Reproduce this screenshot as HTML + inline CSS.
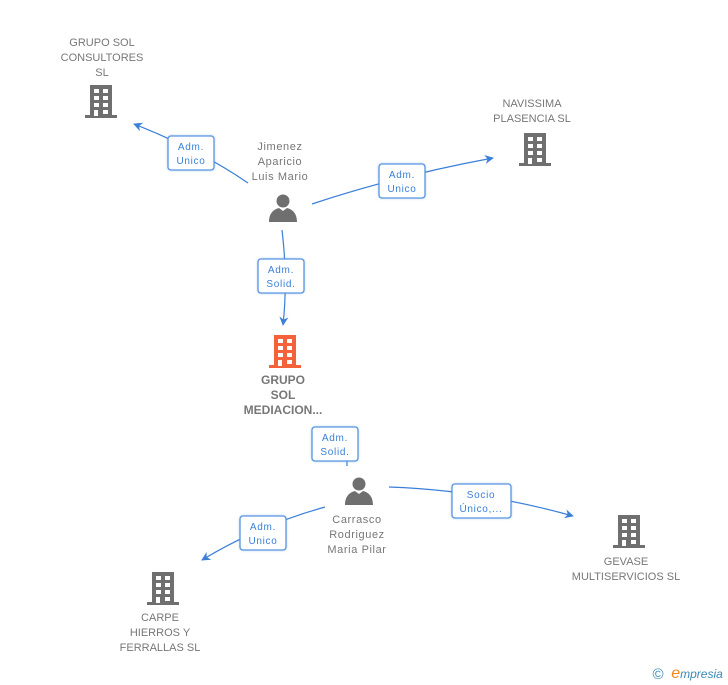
<!DOCTYPE html>
<html><head><meta charset="utf-8"><style>
body{margin:0;background:#fff;width:728px;height:685px;overflow:hidden}
svg{display:block}
text{font-family:"Liberation Sans",sans-serif;font-size:11px;fill:#777;text-anchor:middle}
.p{letter-spacing:0.6px}
.lb{font-size:10px;fill:#3a7fd8;letter-spacing:0.7px}
.b{font-weight:bold;font-size:12px;fill:#777}
</style></head><body>
<svg width="728" height="685" viewBox="0 0 728 685">
<defs>
<g id="bld"><rect x="-11" y="0" width="22" height="31"/><rect x="-16" y="30" width="32" height="3"/>
<g fill="#fff"><rect x="-7" y="4" width="5" height="4"/><rect x="2" y="4" width="5" height="4"/><rect x="-7" y="11" width="5" height="4"/><rect x="2" y="11" width="5" height="4"/><rect x="-7" y="18" width="5" height="4"/><rect x="2" y="18" width="5" height="4"/><rect x="-7" y="25" width="4" height="6"/><rect x="2" y="25" width="5" height="4"/></g></g>
<g id="per"><circle cx="0" cy="7" r="6.5"/><path d="M-14 28 C-14 18 -8 15 -4 14 L0 17 L4 14 C8 15 14 18 14 28 Z"/></g>
<marker id="ar" viewBox="0 0 10 10" refX="9" refY="5" markerWidth="9" markerHeight="9" orient="auto" markerUnits="userSpaceOnUse"><path d="M0 0 L10 5 L0 10 L3 5Z" fill="#3a7fd8"/></marker>
<filter id="sh"><feDropShadow dx="0" dy="0" stdDeviation="1" flood-color="#3a7fd8" flood-opacity="0.4"/></filter>
</defs>
<g stroke="#3a7fd8" stroke-width="1.2" fill="none">
<path d="M248 183 Q200 150 134 124" marker-end="url(#ar)"/>
<path d="M312 204 Q400 175 493 158" marker-end="url(#ar)"/>
<path d="M282 230 Q288 280 283 325" marker-end="url(#ar)"/>
<path d="M347 461 L347 466"/>
<path d="M389 487 Q480 490 573 516" marker-end="url(#ar)"/>
<path d="M325 507 Q260 525 202 560" marker-end="url(#ar)"/>
</g>
<g fill="#fff" stroke="#5a95e0" stroke-width="1.3" filter="url(#sh)">
<rect x="168" y="136" width="46" height="34" rx="3"/>
<rect x="379" y="164" width="46" height="34" rx="3"/>
<rect x="258" y="259" width="46" height="34" rx="3"/>
<rect x="312" y="427" width="46" height="34" rx="3"/>
<rect x="452" y="484" width="59" height="34" rx="3"/>
<rect x="240" y="516" width="46" height="34" rx="3"/>
</g>
<text class="lb" x="191" y="150">Adm.</text><text class="lb" x="191" y="164">Unico</text>
<text class="lb" x="402" y="178">Adm.</text><text class="lb" x="402" y="192">Unico</text>
<text class="lb" x="281" y="273">Adm.</text><text class="lb" x="281" y="287">Solid.</text>
<text class="lb" x="335" y="441">Adm.</text><text class="lb" x="335" y="455">Solid.</text>
<text class="lb" x="481" y="498">Socio</text><text class="lb" x="481" y="512">Único,...</text>
<text class="lb" x="263" y="530">Adm.</text><text class="lb" x="263" y="544">Unico</text>
<g fill="#6f6f6f">
<use href="#bld" x="101" y="85"/>
<use href="#bld" x="535" y="133"/>
<use href="#bld" x="629" y="515"/>
<use href="#bld" x="163" y="572"/>
<use href="#per" x="283" y="194"/>
<use href="#per" x="359" y="477"/>
</g>
<use href="#bld" x="285" y="335" fill="#f4623a"/>
<text x="102" y="46">GRUPO SOL</text><text x="102" y="61">CONSULTORES</text><text x="102" y="76">SL</text>
<text class="p" x="280" y="150">Jimenez</text><text class="p" x="280" y="165">Aparicio</text><text class="p" x="280" y="180">Luis Mario</text>
<text x="532" y="107">NAVISSIMA</text><text x="532" y="122">PLASENCIA SL</text>
<text class="b" x="283" y="384">GRUPO</text><text class="b" x="283" y="399">SOL</text><text class="b" x="283" y="414">MEDIACION...</text>
<text class="p" x="357" y="523">Carrasco</text><text class="p" x="357" y="538">Rodriguez</text><text class="p" x="357" y="553">Maria Pilar</text>
<text x="626" y="565">GEVASE</text><text x="626" y="580">MULTISERVICIOS SL</text>
<text x="160" y="621">CARPE</text><text x="160" y="636">HIERROS Y</text><text x="160" y="651">FERRALLAS SL</text>
<text x="658" y="679" style="font-size:15px;fill:#3b88b5">©</text>
<text x="697" y="678" style="font-size:12px;fill:#3b88b5;font-style:italic"><tspan style="fill:#f08a1c;font-size:16px">e</tspan>mpresia</text>
</svg>
</body></html>
